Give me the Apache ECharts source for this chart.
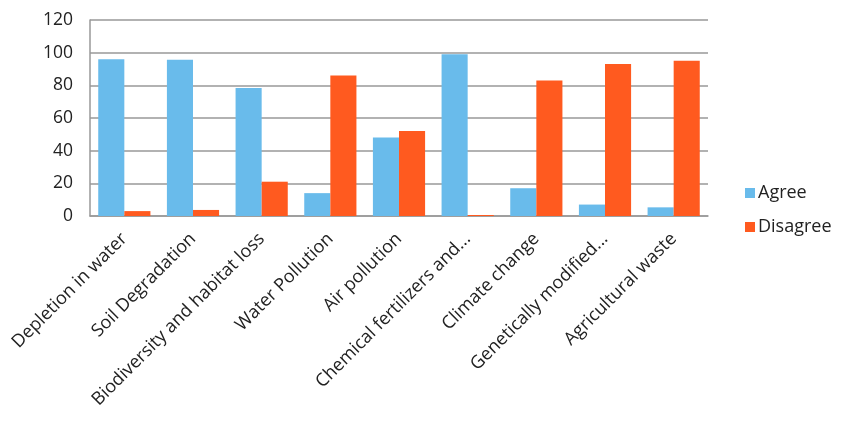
<!DOCTYPE html>
<html><head><meta charset="utf-8">
<script src="https://cdn.jsdelivr.net/npm/echarts@6/dist/echarts.min.js"></script>
<style>html,body{margin:0;padding:0;background:#fff}#c{width:850px;height:423px}</style>
</head><body><div id="c"></div>
<script>
const categories = ["Depletion in water","Soil Degradation","Biodiversity and habitat loss","Water Pollution","Air pollution","Chemical fertilizers and...","Climate change","Genetically modified...","Agricultural waste"];
const agree = [96, 95.7, 78.4, 14, 48, 99, 17, 7, 5.3];
const disagree = [3, 3.7, 21, 86, 52, 0.6, 83, 93, 95];
const seriesNames = ["Agree", "Disagree"];
const font = "Open Sans";
const chart = echarts.init(document.getElementById('c'));
chart.setOption({
  animation: false,
  grid: {left: 90, right: 142, top: 20, bottom: 207, containLabel: false},
  legend: {
    orient: 'vertical', left: 740, top: 179, itemWidth: 10, itemHeight: 10, itemGap: 16,
    icon: 'rect',
    textStyle: {fontFamily: font, fontSize: 18, color: '#222', padding: [0,0,0,-2]},
    data: seriesNames
  },
  xAxis: {
    type: 'category', data: categories,
    axisLine: {lineStyle: {color: '#999', width: 1.5}},
    axisTick: {show: false},
    axisLabel: {rotate: 45, interval: 0, fontFamily: font, fontSize: 18, color: '#222', margin: 20}
  },
  yAxis: {
    type: 'value', min: 0, max: 120, interval: 20,
    axisLine: {show: true, lineStyle: {color: '#999', width: 1.5}},
    axisTick: {show: false},
    splitLine: {lineStyle: {color: '#999', width: 1.5}},
    axisLabel: {fontFamily: font, fontSize: 17.5, color: '#222', margin: 17}
  },
  series: [
    {name: seriesNames[0], type: 'bar', data: agree, barGap: '0%', barCategoryGap: '24%', itemStyle: {color: '#69BBEB'}},
    {name: seriesNames[1], type: 'bar', data: disagree, barGap: '0%', barCategoryGap: '24%', itemStyle: {color: '#FF5A1F'}}
  ]
});
</script></body></html>
